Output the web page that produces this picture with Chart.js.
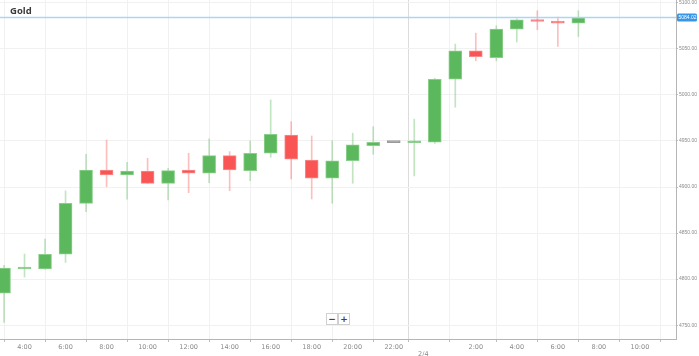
<!DOCTYPE html>
<html>
<head>
<meta charset="utf-8">
<script src="https://cdn.jsdelivr.net/npm/chart.js@4.4.1/dist/chart.umd.min.js"></script>
<style>
  html, body { margin: 0; padding: 0; background: #fff; }
  #wrap { position: relative; width: 699px; height: 356px; }
  canvas { display: block; }
  .zb { position: absolute; top: 313px; width: 10px; height: 10px; border: 1px solid #d0d0d0; background: #fff;
        font: bold 9px "DejaVu Sans", sans-serif; color: #444; text-align: center; line-height: 10px; }
</style>
</head>
<body>
<div id="wrap">
  <canvas id="c" width="699" height="356"></canvas>
  <div class="zb" style="left:326px;">−</div>
  <div class="zb" style="left:338px;">+</div>
</div>
<script>
// ---- data (hour index: 3 = 3:00 on day 1, 24 = 0:00 on 2/4) ----
const title = 'Gold';
const hours = [3,4,5,6,7,8,9,10,11,12,13,14,15,16,17,18,19,20,21,22,23,24,25,26,27,28,29,30,31];
const opens  = [4784.8,4811.0,4811.0,4827.0,4882.3,4918.5,4913.0,4917.4,4904.0,4918.5,4914.9,4934.0,4917.7,4936.6,4956.5,4929.3,4909.5,4928.6,4944.9,4948.2,4948.0,4948.6,5017.0,5047.8,5040.5,5071.4,5081.5,5079.7,5077.9];
const closes = [4812.0,4811.6,4826.8,4882.3,4918.5,4913.0,4917.4,4904.0,4917.7,4914.9,4934.0,4918.5,4936.6,4957.3,4930.1,4909.5,4928.3,4945.7,4948.6,4948.2,4948.6,5017.0,5047.8,5041.6,5071.4,5081.5,5079.7,5077.9,5084.02];
const highs  = [4815.0,4827.2,4843.5,4895.7,4935.5,4951.0,4926.8,4931.2,4920.3,4936.6,4952.2,4938.4,4950.0,4994.6,4971.0,4955.4,4950.3,4958.4,4965.5,4948.2,4973.6,5018.0,5055.1,5067.0,5075.0,5082.6,5091.3,5084.5,5091.3];
const lows   = [4753.0,4802.2,4810.5,4818.2,4873.2,4900.3,4886.7,4903.8,4885.9,4893.8,4904.7,4896.0,4906.8,4932.3,4908.7,4887.0,4882.3,4904.0,4935.5,4948.2,4912.0,4947.3,4986.6,5037.0,5037.0,5057.3,5070.7,5052.5,5063.4];
const lastPrice = 5084.02;
const xTicks = [4,6,8,10,12,14,16,18,20,22,23.44,26,28,30,32,34];
const dayBreak = 23.44;
const dayLabel = '2/4';
const yTicks = [4750,4800,4850,4900,4950,5000,5050,5100];

// ---- styles ----
const UP = '#5cb85c', DOWN = '#f95555', FLAT = '#9a9a9a';
const UP_B = '#8ccf8c', DOWN_B = '#fb8a8a';
const UP_W = 'rgba(92,184,92,0.38)', DOWN_W = 'rgba(249,85,85,0.38)';
const dir = i => closes[i] > opens[i] ? 1 : (closes[i] < opens[i] ? -1 : 0);

const bodies = hours.map((h, i) => ({ x: h, y: [opens[i], closes[i]] }));
const wicks  = hours.map((h, i) => ({ x: h, y: [lows[i], highs[i]] }));

const hourLabel = v => {
  if (Math.abs(v - dayBreak) < 0.01) return ['', dayLabel];
  const h = v >= 24 ? v - 24 : v;
  return h + ':00';
};

const overlay = {
  id: 'overlay',
  afterDatasetsDraw(chart) {
    const { ctx, chartArea, scales } = chart;
    const y = Math.round(scales.y.getPixelForValue(lastPrice)) + 0.5;
    ctx.save();
    ctx.strokeStyle = '#acd5f5';
    ctx.lineWidth = 1.5;
    ctx.beginPath();
    ctx.moveTo(chartArea.left, y);
    ctx.lineTo(chartArea.right, y);
    ctx.stroke();
    // price tag
    ctx.fillStyle = '#3797e6';
    ctx.beginPath();
    ctx.roundRect(chartArea.right + 1, y - 4, 20, 8, 1.5);
    ctx.fill();
    ctx.fillStyle = '#fff';
    ctx.font = '5px "Liberation Sans", sans-serif';
    ctx.textAlign = 'left';
    ctx.textBaseline = 'middle';
    ctx.fillText(lastPrice.toFixed(2), chartArea.right + 2.5, y + 0.5);
    // title
    ctx.fillStyle = '#3a3a3a';
    ctx.font = 'bold 9.5px "Open Sans", sans-serif';
    ctx.textBaseline = 'alphabetic';
    ctx.fillText(title, 10, 13.5);
    ctx.restore();
  }
};

new Chart(document.getElementById('c'), {
  type: 'bar',
  data: {
    datasets: [
      {
        data: bodies,
        order: 1,
        grouped: false,
        barThickness: 13,
        minBarLength: 2,
        borderWidth: 1,
        borderSkipped: false,
        backgroundColor: hours.map((h, i) => dir(i) > 0 ? UP : dir(i) < 0 ? DOWN : FLAT),
        borderColor: hours.map((h, i) => dir(i) > 0 ? UP_B : dir(i) < 0 ? DOWN_B : FLAT)
      },
      {
        data: wicks,
        order: 2,
        grouped: false,
        barThickness: 1,
        borderWidth: 0,
        backgroundColor: hours.map((h, i) => dir(i) > 0 ? UP_W : dir(i) < 0 ? DOWN_W : 'rgba(0,0,0,0)')
      }
    ]
  },
  options: {
    responsive: false,
    animation: false,
    devicePixelRatio: 1,
    layout: { padding: 0 },
    plugins: { legend: { display: false }, tooltip: { enabled: false }, title: { display: false } },
    scales: {
      x: {
        type: 'linear',
        min: 2.805,
        max: 35.76,
        offset: false,
        afterBuildTicks: s => { s.ticks = xTicks.map(v => ({ value: v })); },
        afterFit: s => { s.height = 17; s.paddingLeft = 0; s.paddingRight = 0; s.paddingTop = 0; s.paddingBottom = 0; },
        ticks: {
          autoSkip: false, maxRotation: 0, padding: 1,
          color: '#8a8a8a',
          font: { size: 6.5, family: '"DejaVu Sans", sans-serif' },
          lineHeight: 1.2,
          callback: v => hourLabel(v)
        },
        grid: {
          color: c => (c.tick && Math.abs(c.tick.value - dayBreak) < 0.01) ? '#dcdcdc' : '#f1f1f1',
          tickColor: '#bdbdbd',
          tickLength: 3,
          lineWidth: 1
        },
        border: { color: '#b5b5b5', width: 1 }
      },
      y: {
        position: 'right',
        min: 4735,
        max: 5103,
        afterBuildTicks: s => { s.ticks = yTicks.map(v => ({ value: v })); },
        afterFit: s => { s.width = 23; s.paddingLeft = 0; s.paddingRight = 0; s.paddingTop = 0; s.paddingBottom = 0; },
        ticks: {
          padding: 1,
          color: '#8a8a8a',
          font: { size: 5, family: '"Liberation Sans", sans-serif' },
          callback: v => v.toFixed(2)
        },
        grid: { color: '#f1f1f1', tickColor: '#bdbdbd', tickLength: 2 },
        border: { color: '#b5b5b5', width: 1 }
      }
    }
  },
  plugins: [overlay]
});
</script>
</body>
</html>
